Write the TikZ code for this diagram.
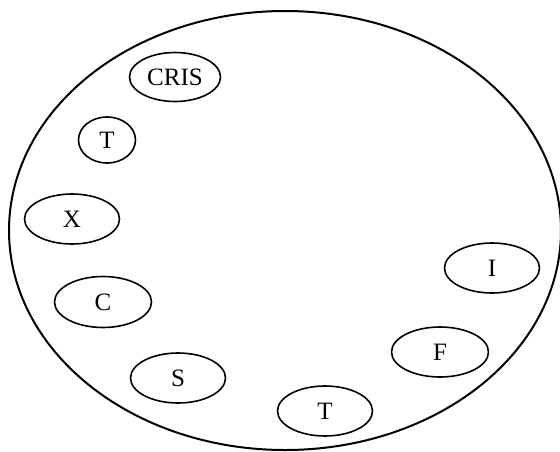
\documentclass[tikz,border=0pt]{standalone}
\usepackage{fontspec}
\setmainfont{Liberation Serif}
\usetikzlibrary{shapes.geometric}
\begin{document}
\begin{tikzpicture}[x=1pt,y=-1pt,
  outer/.style={draw, ellipse, line width=2pt, inner sep=0pt,
    minimum width=552pt, minimum height=439pt},
  item/.style={draw, ellipse, line width=1.6pt, inner sep=0pt,
    minimum width=95pt, minimum height=50pt, font=\fontsize{25}{29}\selectfont},
  small/.style={item, minimum width=57pt, minimum height=46pt}]
  \useasboundingbox (0,0) rectangle (560,451);
  % enclosing set
  \node[outer] (all) at (285,230.5) {};
  % members, counter-clockwise from the top
  \node[item, minimum width=91pt, minimum height=49pt] (cris) at (175,77) {CRIS};
  \node[small] (t1) at (107,140) {T};
  \node[item] (x) at (72,219) {X};
  \node[item, minimum width=97pt, minimum height=51pt] (c) at (103,302) {C};
  \node[item] (s) at (178,378) {S};
  \node[item] (t2) at (325,411) {T};
  \node[item, minimum width=97pt] (f) at (440,352) {F};
  \node[item] (i) at (492,268) {I};
\end{tikzpicture}
\end{document}
